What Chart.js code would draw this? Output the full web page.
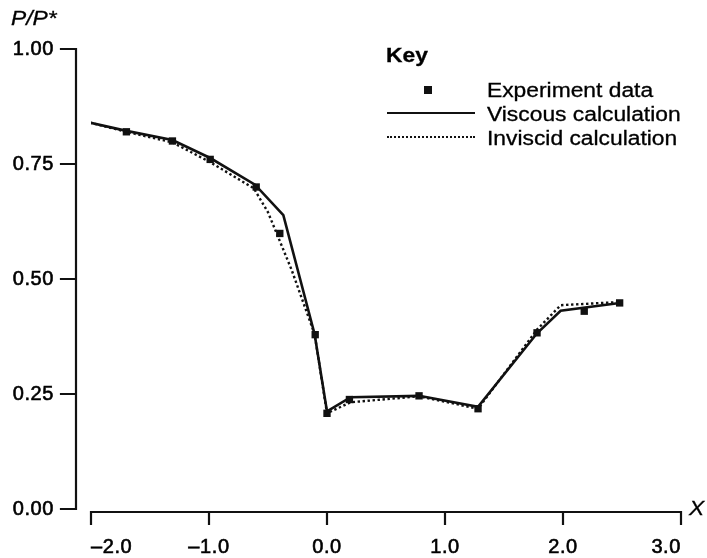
<!DOCTYPE html>
<html>
<head>
<meta charset="utf-8">
<script src="https://cdn.jsdelivr.net/npm/chart.js@4.4.1/dist/chart.umd.min.js"></script>
<style>
  html,body{margin:0;padding:0;background:#fff;}
  #wrap{position:relative;width:707px;height:558px;overflow:hidden;}
  #plot{position:absolute;left:0;top:0;}
  .txt{position:absolute;font-family:"Liberation Sans",Arial,sans-serif;font-size:19.5px;line-height:24px;color:#000;
       white-space:nowrap;transform:scaleX(1.17);transform-origin:left center;-webkit-text-stroke:0.3px #000;}
  .ital{font-style:italic;}
  .bold{font-weight:bold;}
  .sw{position:absolute;height:0;width:88px;}
</style>
</head>
<body>
<div id="wrap">
  <canvas id="plot" width="707" height="558"></canvas>

  <!-- axis titles -->
  <div class="txt ital" style="left:11px;top:6px;">P/P*</div>
  <div class="txt ital" style="left:689px;top:496px;">X</div>

  <!-- key -->
  <div class="txt bold" style="left:386px;top:43px;">Key</div>
  <div style="position:absolute;left:424px;top:86px;width:8px;height:8px;background:#111;"></div>
  <div class="txt" style="left:487px;top:78px;">Experiment data</div>
  <div class="sw" style="left:387px;top:112px;border-top:2.5px solid #111;"></div>
  <div class="txt" style="left:487px;top:102px;">Viscous calculation</div>
  <div class="sw" style="left:387px;top:136px;border-top:2px dotted #111;"></div>
  <div class="txt" style="left:487px;top:126px;">Inviscid calculation</div>
</div>

<script>
// tick values
const xTicks = [-2, -1, 0, 1, 2, 3];
const yTicks = [0, 0.25, 0.5, 0.75, 1];

// experiment data (squares)
const expX = [-1.70, -1.31, -0.99, -0.60, -0.40, -0.10, 0.00, 0.19, 0.78, 1.28, 1.78, 2.18, 2.48];
const expY = [0.820, 0.800, 0.760, 0.700, 0.599, 0.379, 0.208, 0.238, 0.246, 0.218, 0.383, 0.430, 0.448];

// viscous calculation (solid)
const viscX = [-2.01, -1.70, -1.31, -0.99, -0.61, -0.37, -0.105, 0.00, 0.20, 0.78, 1.28, 1.78, 1.98, 2.48];
const viscY = [0.840, 0.822, 0.802, 0.763, 0.705, 0.639, 0.380, 0.212, 0.243, 0.246, 0.222, 0.382, 0.431, 0.448];

// inviscid calculation (dotted)
const invX = [-2.01, -1.70, -1.31, -0.99, -0.62, -0.50, -0.42, -0.30, -0.105, 0.00, 0.20, 0.78, 1.28, 1.78, 1.98, 2.48];
const invY = [0.840, 0.820, 0.797, 0.754, 0.697, 0.645, 0.595, 0.520, 0.380, 0.208, 0.232, 0.245, 0.218, 0.390, 0.443, 0.450];

const pts = (xs, ys) => xs.map((x, i) => ({x, y: ys[i]}));
const INK = '#111';
const FONT = {family:'"Liberation Sans", Arial, sans-serif', size:20};

// detached axes: y axis sits left of the plot, x axis just below it
const axisLines = {
  id:'axisLines',
  beforeDraw(chart){ chart.ctx.letterSpacing = '0.6px'; },
  afterDraw(chart){
    const {ctx, scales:{x, y}} = chart;
    ctx.save();
    ctx.letterSpacing = '0px';
    ctx.strokeStyle = INK; ctx.lineWidth = 2.2; ctx.lineCap = 'square';
    const ax = x.left - 15;
    ctx.beginPath();
    ctx.moveTo(ax, y.getPixelForValue(1)); ctx.lineTo(ax, y.getPixelForValue(0));
    yTicks.forEach(v => { const py = y.getPixelForValue(v); ctx.moveTo(ax - 15, py); ctx.lineTo(ax, py); });
    const ay = y.bottom + 3;
    ctx.moveTo(x.getPixelForValue(-2), ay); ctx.lineTo(x.getPixelForValue(3), ay);
    xTicks.forEach(v => { const px = x.getPixelForValue(v); ctx.moveTo(px, ay); ctx.lineTo(px, ay + 12); });
    ctx.stroke();
    ctx.restore();
  }
};

new Chart(document.getElementById('plot').getContext('2d'), {
  type:'line',
  data:{
    datasets:[
      {label:'Inviscid calculation', data:pts(invX, invY), borderColor:INK, borderWidth:2.4, borderDash:[2.4,2.6],
       pointRadius:0, tension:0, fill:false},
      {label:'Viscous calculation', data:pts(viscX, viscY), borderColor:INK, borderWidth:2.6,
       pointRadius:0, tension:0, fill:false},
      {label:'Experiment data', data:pts(expX, expY), showLine:false, pointStyle:'rect',
       pointRadius:5.2, pointBackgroundColor:INK, pointBorderColor:INK, pointBorderWidth:0}
    ]
  },
  options:{
    responsive:false, animation:false,
    layout:{padding:{top:47, right:22, left:0, bottom:0}},
    plugins:{legend:{display:false}, tooltip:{enabled:false}},
    scales:{
      x:{type:'linear', min:-2, max:3,
         grid:{display:false, drawTicks:false}, border:{display:false},
         afterFit(s){ s.height = 49; },
         afterBuildTicks(s){ s.ticks = xTicks.map(v => ({value:v})); },
         ticks:{color:'#000', font:FONT, padding:26, align:'inner', maxRotation:0,
                textStrokeColor:'#000', textStrokeWidth:0.6,
                callback:v => (v < 0 ? '\u2013' : '') + Math.abs(v).toFixed(1)}},
      y:{type:'linear', min:0, max:1,
         grid:{display:false, drawTicks:false}, border:{display:false},
         afterFit(s){ s.width = 91; },
         afterBuildTicks(s){ s.ticks = yTicks.map(v => ({value:v})); },
         ticks:{color:'#000', font:FONT, padding:37, textStrokeColor:'#000', textStrokeWidth:0.6,
                callback:v => v.toFixed(2)}}
    }
  },
  plugins:[axisLines]
});
</script>
</body>
</html>
